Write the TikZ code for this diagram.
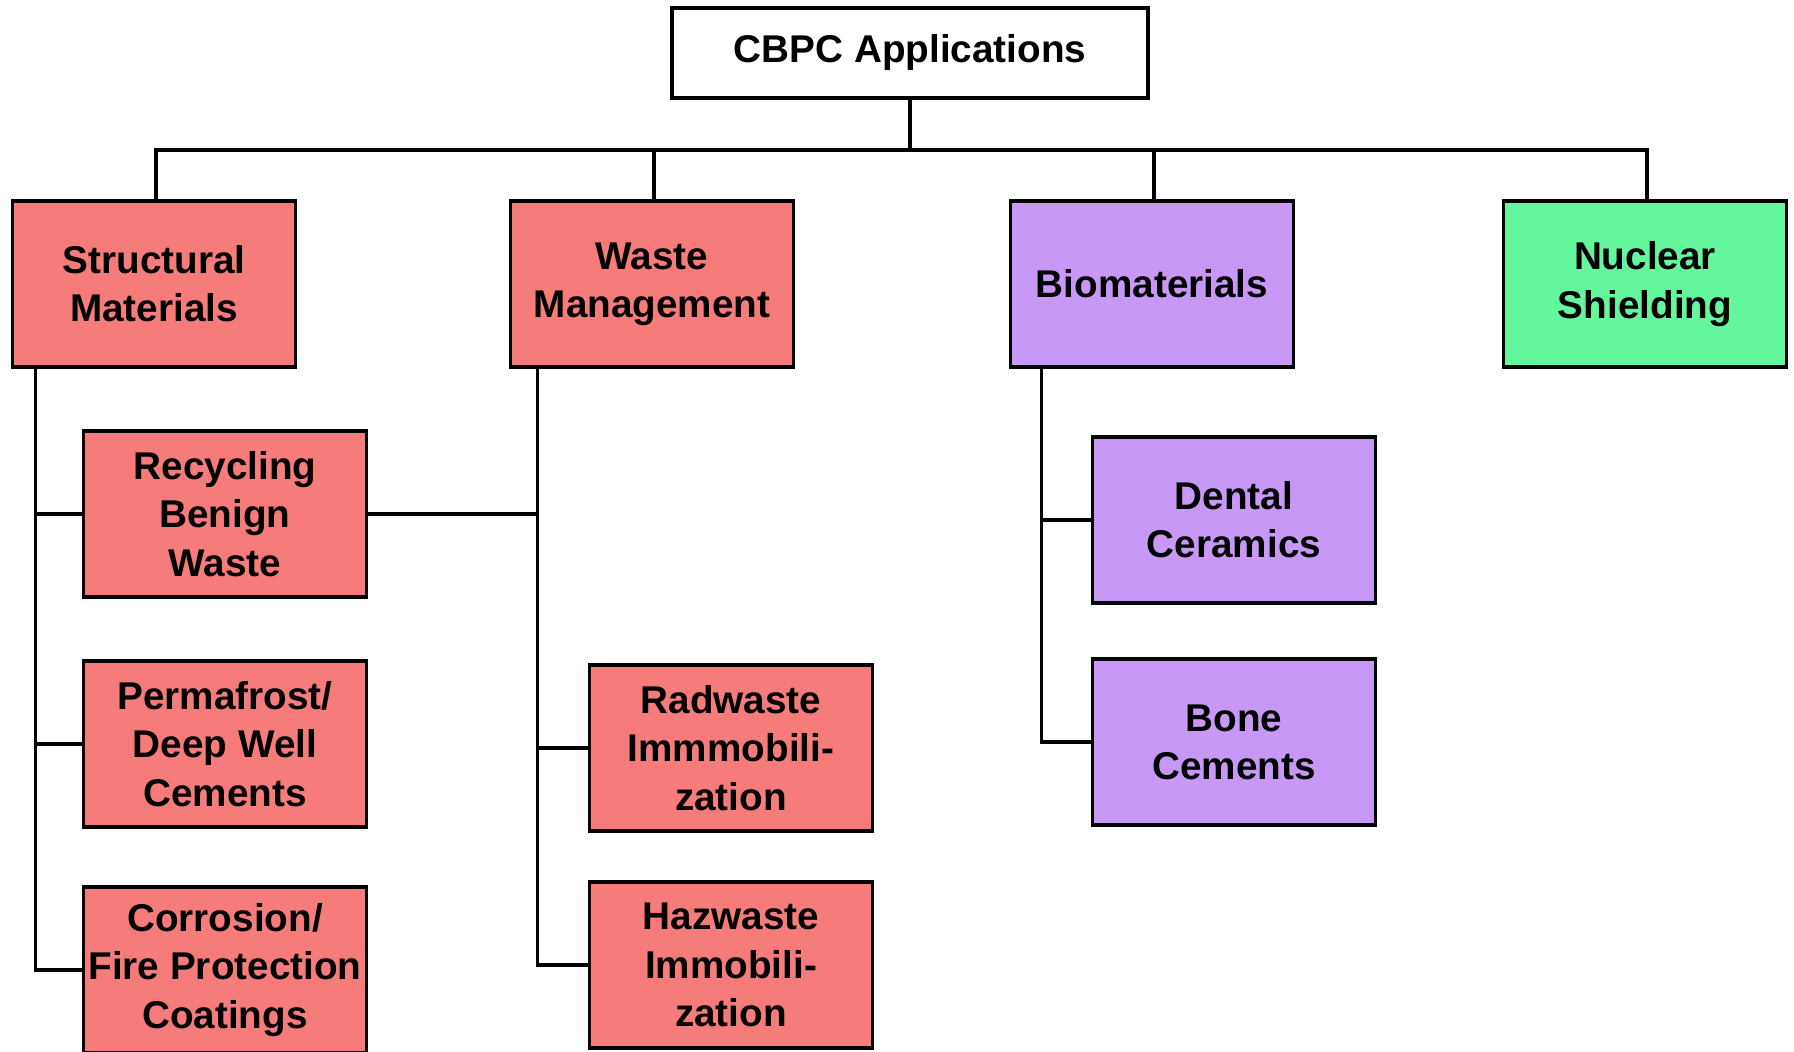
\documentclass[tikz,border=0pt]{standalone}
\usepackage{fontspec}
\setmainfont{Liberation Sans}
\usepackage{tikz}
\usetikzlibrary{positioning}
\definecolor{salmon}{RGB}{246,123,123}
\definecolor{lilac}{RGB}{200,152,246}
\definecolor{mint}{RGB}{100,246,156}

\begin{document}
\begin{tikzpicture}[x=0.01cm,y=-0.01cm,thick]
  \tikzstyle{every node}=[font=\fontsize{11}{13.7}\selectfont\bfseries,align=center]
  \tikzstyle{box}=[draw,line width=1pt,minimum width=2.83cm,minimum height=1.66cm,inner sep=1pt]
  \tikzstyle{link}=[line width=0.9pt]

  \useasboundingbox (0,0) rectangle (1794,1052);

  \node[box,minimum width=4.76cm,minimum height=0.9cm] (cbpc) at (910,53) {\raisebox{-2pt}{CBPC Applications}};

  \node[box,fill=salmon] (struct) at (154,284)  {Structural\\Materials};
  \node[box,fill=salmon] (waste)  at (652,284)  {Waste\\Management};
  \node[box,fill=lilac]  (bio)    at (1152,284) {Biomaterials};
  \node[box,fill=mint]   (nuc)    at (1645,284) {Nuclear\\Shielding};

  \node[box,fill=salmon] (recyc) at (225,514) {Recycling\\Benign\\Waste};
  \node[box,fill=salmon] (perma) at (225,744) {Permafrost/\\Deep Well\\Cements};
  \node[box,fill=salmon] (corr)  at (225,970) {Corrosion/\\Fire Protection\\Coatings};

  \node[box,fill=salmon] (radw)  at (731,748) {Radwaste\\Immmobili-\\zation};
  \node[box,fill=salmon] (hazw)  at (731,965) {Hazwaste\\Immobili-\\zation};

  \node[box,fill=lilac] (dental) at (1234,520) {Dental\\Ceramics};
  \node[box,fill=lilac] (bone)   at (1234,742) {Bone\\Cements};

  \coordinate (bus) at (910,150);
  \coordinate (stop) at ([xshift=.25cm]struct.south west);
  \coordinate (wtop) at ([xshift=.29cm]waste.south west);
  \coordinate (btop) at ([xshift=.33cm]bio.south west);

  \draw[link] (cbpc) -- (bus);
  \foreach \n in {struct,waste,bio,nuc}
    \draw[link] ([xshift=.02cm]\n.north) |- (bus);

  \foreach \n in {recyc,perma,corr}
    \draw[link] (stop) |- (\n.west);
  \foreach \n in {radw,hazw}
    \draw[link] (wtop) |- (\n.west);
  \draw[link] (recyc.east) -- (recyc.east -| wtop);
  \foreach \n in {dental,bone}
    \draw[link] (btop) |- (\n.west);

\end{tikzpicture}
\end{document}
